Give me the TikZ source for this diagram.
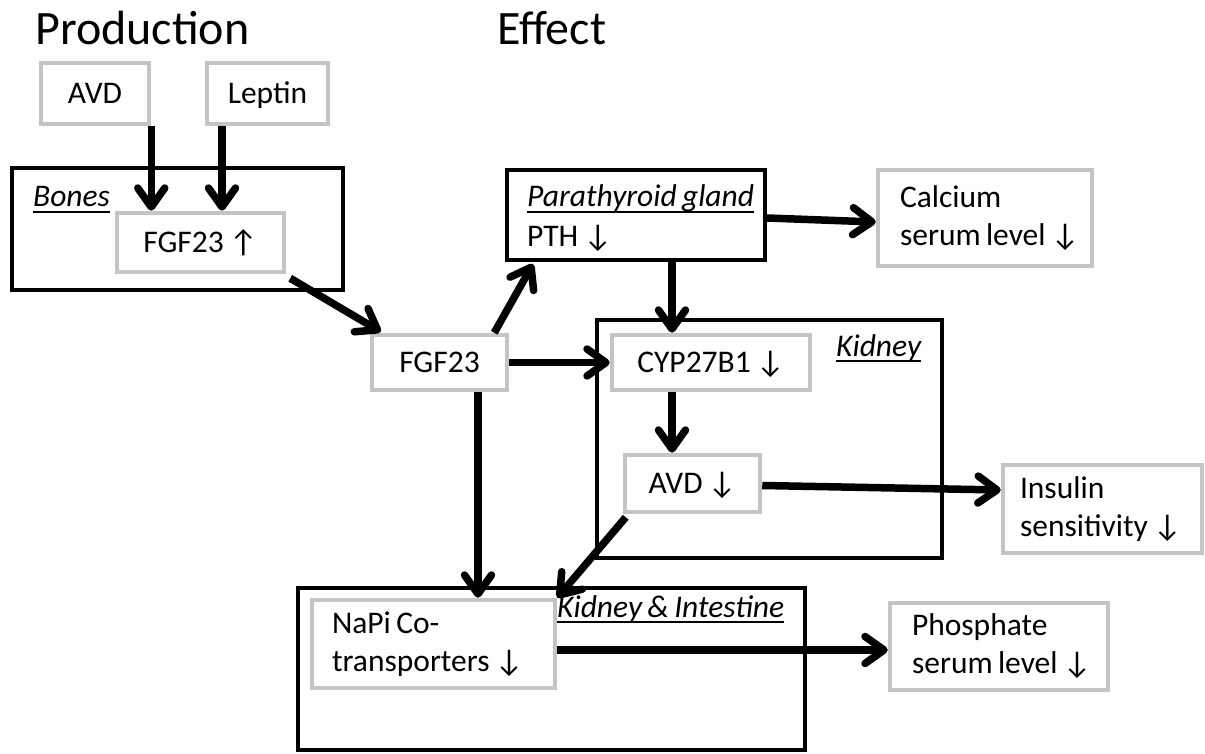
\documentclass[tikz,border=0pt]{standalone}
\usepackage{fontspec}
\setmainfont{Carlito}[WordSpace=0.75]
\usetikzlibrary{arrows.meta}
\definecolor{boxgray}{RGB}{196,196,196}
\newcommand\nsp{\spaceskip=0pt\xspaceskip=0pt\relax}
\begin{document}
\begin{tikzpicture}[x=1pt,y=-1pt,
  every node/.style={font=\fontsize{31.5}{38}\selectfont, inner sep=0pt},
  gbox/.style={draw=boxgray, line width=4.5pt, fill=white},
  one/.style={text height=24pt, text depth=4pt},
  cbox/.style={draw=black, line width=4pt},
  arr/.style={line width=7.5pt, -{Straight Barb[length=19pt,width=27pt,round]}},
  lbl/.style={anchor=base west},
  ul/.style={line width=1.8pt},
  title/.style={anchor=base west, font=\fontsize{48}{56}\selectfont}]
\useasboundingbox (0,0) rectangle (1205,754);

% titles
\node[title] (tprod) at (35,45) {Production};
\node[title] (teff) at (497,45) {Effect};

% containers
\node[cbox, minimum width=331pt, minimum height=122pt] (bones) at (177.5,229) {};
\node[cbox, minimum width=258pt, minimum height=90pt] (pth) at (636,215) {};
\node[cbox, minimum width=345pt, minimum height=238pt] (kid) at (769.5,439) {};
\node[cbox, minimum width=507pt, minimum height=162pt] (kin) at (551.5,669) {};

% container labels
\node[lbl] (lbones) at (33,207) {\itshape Bones};
\node[lbl] (lpth) at (527,207) {\itshape Parathyroid gland};
\node[lbl] (pthtxt) at (527,247) {PTH ↓};
\node[lbl] (lkid) at (836,356) {\itshape Kidney};
\node[lbl] (lkin) at (557,617) {\itshape Kidney \& Intestine};
\foreach \n in {lbones,lpth,lkid,lkin}
  \draw[ul] ([yshift=-5pt]\n.base west) -- ([yshift=-5pt]\n.base east);

% grey boxes
\node[gbox, one, minimum width=108pt, minimum height=61pt] (avd) at (95,93.5) {AVD};
\node[gbox, one, minimum width=121pt, minimum height=61pt] (lep) at (267.5,93.5) {Leptin};
\node[gbox, one, minimum width=167pt, minimum height=59pt] (fgfb) at (200.5,242.5) {FGF23 ↑};
\node[gbox, one, minimum width=135pt, minimum height=55pt] (fgfm) at (439.5,362.5) {FGF23};
\node[gbox, one, minimum width=198pt, minimum height=55pt] (cyp) at (711,362.5) {CYP27B1 ↓};
\node[gbox, one, minimum width=135pt, minimum height=57pt] (avdk) at (692.5,483.5) {AVD ↓};
\node[gbox, minimum width=214pt, minimum height=96pt, text width=170pt, align=left] (cal) at (985,218) {\nsp\mbox{Calcium}\\\mbox{serum level ↓}};
\node[gbox, minimum width=199pt, minimum height=88pt, text width=165pt, align=left] (ins) at (1102.5,509) {\nsp\mbox{Insulin}\\\mbox{sensitivity ↓}};
\node[gbox, minimum width=243pt, minimum height=88pt, text width=203pt, align=left] (napi) at (433.5,644) {\nsp\mbox{NaPi Co-}\\\mbox{transporters ↓}};
\node[gbox, minimum width=218pt, minimum height=87pt, text width=174pt, align=left] (pho) at (999,646.5) {\nsp\mbox{Phosphate}\\\mbox{serum level ↓}};

% helper coordinates
\coordinate (avdout) at (avd.south east);
\coordinate (lepout) at ([xshift=-45.5pt]lep.south);
\coordinate (ptout) at ([xshift=36pt]pth.south);
\coordinate (cypout) at ([xshift=-39pt]cyp.south);
\coordinate (fgfdown) at ([xshift=38.5pt]fgfm.south);
\coordinate (napiout) at ([yshift=-6pt]napi.east);

% connectors
\draw[arr] (avdout) -- (avdout |- fgfb.north);
\draw[arr] (lepout) -- (lepout |- fgfb.north);
\draw[arr] ([shift={(4,4)}]fgfb.south east) -- ([shift={(11,-1)}]fgfm.north west);
\draw[arr] ([xshift=-15pt]fgfm.north east) -- ([shift={(28,2)}]pth.south west);
\draw[arr] (ptout) -- (ptout |- cyp.north);
\draw[arr] (fgfm.east) -- (cyp.west);
\draw[arr] (cypout) -- (cypout |- avdk.north);
\draw[arr] ([yshift=-2pt]avdk.east) -- ([yshift=19pt]ins.west);
\draw[arr] ([shift={(3,3)}]avdk.south west) -- (napi.north east);
\draw[arr] (fgfdown) -- (fgfdown |- napi.north);
\draw[arr] (napiout) -- (napiout -| pho.west);
\draw[arr] ([yshift=-3pt]pth.east) -- ([yshift=-4pt]cal.west);
\end{tikzpicture}
\end{document}
